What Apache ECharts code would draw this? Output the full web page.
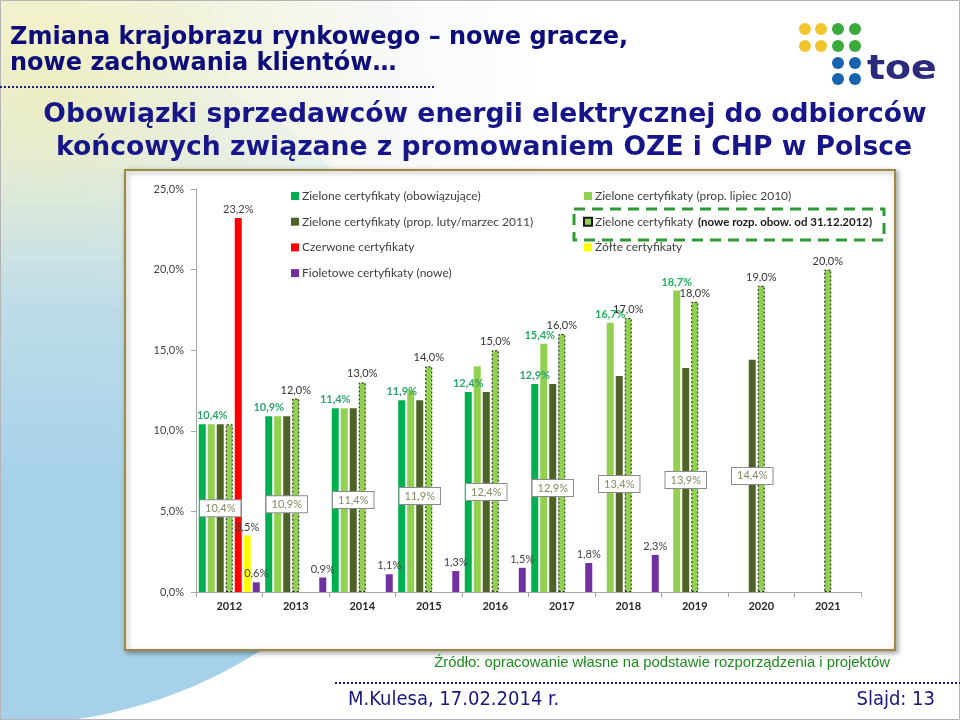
<!DOCTYPE html>
<html>
<head>
<meta charset="utf-8">
<script src="https://cdn.jsdelivr.net/npm/echarts@6/dist/echarts.min.js"></script>
<style>
html,body{margin:0;padding:0;background:#fff;}
#chart{width:960px;height:720px;}
</style>
</head>
<body>
<div id="chart"></div>
<script>
// ---- data ----
const years = ['2012','2013','2014','2015','2016','2017','2018','2019','2020','2021'];
const greenCurrent = [10.4, 10.9, 11.4, 11.9, 12.4, 12.9, null, null, null, null];
const greenJul2010 = [10.4, 10.9, 11.4, 12.5, 14.0, 15.4, 16.7, 18.7, null, null];
const greenFeb2011 = [10.4, 10.9, 11.4, 11.9, 12.4, 12.9, 13.4, 13.9, 14.4, null];
const greenNew     = [10.4, 12.0, 13.0, 14.0, 15.0, 16.0, 17.0, 18.0, 19.0, 20.0];
const redCert      = [23.2, null, null, null, null, null, null, null, null, null];
const yellowCert   = [3.5, null, null, null, null, null, null, null, null, null];
const violetCert   = [0.6, 0.9, 1.1, 1.3, 1.5, 1.8, 2.3, null, null, null];
const yTicks = [0, 5, 10, 15, 20, 25];

const names = {
  cur: 'Zielone certyfikaty (obowiązujące)',
  jul: 'Zielone certyfikaty (prop. lipiec 2010)',
  feb: 'Zielone certyfikaty (prop. luty/marzec 2011)',
  nw: 'Zielone certyfikaty',
  red: 'Czerwone certyfikaty',
  yel: 'Żółte certyfikaty',
  vio: 'Fioletowe certyfikaty (nowe)'
};

const pct = v => (typeof v === 'object' ? v.value : v).toFixed(1).replace('.', ',') + '%';
const FONT = 'Lato, "Open Sans", sans-serif';

function withLabels(arr, showIdx, extra) {
  return arr.map((v, i) => {
    if (v === null) return null;
    const item = { value: v };
    if (!showIdx(i)) item.label = { show: false };
    if (extra && extra[i]) item.label = Object.assign(item.label || {}, extra[i]);
    return item;
  });
}

const topLabel = (color, bold) => ({
  show: true, position: 'top', distance: 3, formatter: p => pct(p.value),
  color: color, fontSize: 11, fontFamily: FONT, fontWeight: bold ? 'bold' : 'normal'
});

const barBase = { type: 'bar', barWidth: 7, barGap: '28.6%', barCategoryGap: '6%' };

const chart = echarts.init(document.getElementById('chart'), null, { renderer: 'canvas' });

const legendText = { color: '#404040', fontSize: 12, fontFamily: FONT, lineHeight: 14, padding: [0, 0, 0, -2] };

const option = {
  animation: false,
  backgroundColor: 'transparent',
  grid: { left: 196, right: 99, top: 189, bottom: 128, containLabel: false },
  legend: [
    {
      left: 291, top: 189, orient: 'vertical', padding: 0, itemGap: 11.7,
      itemWidth: 8, itemHeight: 8, icon: 'rect', selectedMode: false,
      textStyle: legendText,
      data: [names.cur, names.feb, names.red, names.vio]
    },
    {
      left: 583, top: 189, orient: 'vertical', padding: 0, itemGap: 11.7,
      itemWidth: 8, itemHeight: 8, icon: 'rect', selectedMode: false,
      textStyle: legendText,
      data: [names.jul, names.nw, names.yel]
    }
  ],
  xAxis: {
    type: 'category', data: years,
    axisLine: { lineStyle: { color: '#a6a6a6', width: 1 } },
    axisTick: { show: true, length: 5, lineStyle: { color: '#a6a6a6' } },
    axisLabel: { color: '#262626', fontWeight: 'bold', fontSize: 11, fontFamily: FONT, margin: 9 }
  },
  yAxis: {
    type: 'value', min: yTicks[0], max: yTicks[yTicks.length - 1], interval: yTicks[1] - yTicks[0],
    axisLine: { show: true, lineStyle: { color: '#a6a6a6', width: 1 } },
    axisTick: { show: true, length: 5, lineStyle: { color: '#a6a6a6' } },
    splitLine: { show: false },
    axisLabel: { color: '#404040', fontSize: 11, fontFamily: FONT, margin: 12, formatter: v => pct(v) }
  },
  series: [
    Object.assign({}, barBase, {
      name: names.cur, itemStyle: { color: '#00b050' },
      label: topLabel('#2ea56c', true),
      data: withLabels(greenCurrent, i => true, { 0: { offset: [10, 0] } })
    }),
    Object.assign({}, barBase, {
      name: names.jul, itemStyle: { color: '#92d050' },
      label: topLabel('#22b05e', true),
      data: withLabels(greenJul2010, i => i >= 5, { 5: { offset: [-4, 0] } })
    }),
    Object.assign({}, barBase, {
      name: names.feb, itemStyle: { color: '#4f6228' },
      label: {
        show: true, position: 'inside', formatter: p => pct(p.value),
        color: '#7f8c64', fontSize: 11, fontFamily: FONT,
        backgroundColor: '#ffffff', borderColor: '#8c8c8c', borderWidth: 1, padding: [3, 5, 2, 5]
      },
      data: withLabels(greenFeb2011, i => true)
    }),
    Object.assign({}, barBase, {
      name: names.nw,
      itemStyle: { color: '#92d050', borderColor: '#1a1a1a', borderWidth: 1, borderType: [2, 2] },
      label: topLabel('#333333', false),
      data: withLabels(greenNew, i => i >= 1)
    }),
    Object.assign({}, barBase, {
      name: names.red, itemStyle: { color: '#ff0000' },
      label: topLabel('#404040', false),
      data: withLabels(redCert, i => true)
    }),
    Object.assign({}, barBase, {
      name: names.yel, itemStyle: { color: '#ffff00' },
      label: topLabel('#404040', false),
      data: withLabels(yellowCert, i => true)
    }),
    Object.assign({}, barBase, {
      name: names.vio, itemStyle: { color: '#7030a0' },
      label: topLabel('#404040', false),
      data: withLabels(violetCert, i => true)
    })
  ],
  graphic: [
    // slide background
    { type: 'rect', z: -20, silent: true, shape: { x: 0, y: 0, width: 960, height: 720 },
      style: { fill: { type: 'radial', x: 0.05, y: 0.12, r: 0.7, colorStops: [
        { offset: 0, color: '#f1efbe' }, { offset: 0.35, color: '#f2f3df' }, { offset: 0.75, color: '#f8fafb' }, { offset: 1, color: '#ffffff' } ] } } },
    { type: 'ellipse', z: -19, silent: true, shape: { cx: 0, cy: 380, rx: 420, ry: 345 },
      style: { fill: { type: 'linear', x: 0, y: 0, x2: 0, y2: 1, colorStops: [
        { offset: 0, color: 'rgba(166,209,232,0)' }, { offset: 0.18, color: 'rgba(166,209,232,0.15)' },
        { offset: 0.4, color: 'rgba(166,209,232,0.7)' }, { offset: 0.65, color: 'rgba(166,209,232,1)' }, { offset: 1, color: '#a6d1e8' } ] } } },
    { type: 'rect', z: -18, silent: true, shape: { x: 0.5, y: 0.5, width: 959, height: 719 },
      style: { fill: null, stroke: '#b4b4b4', lineWidth: 1 } },
    // chart frame
    { type: 'rect', z: -10, silent: true, shape: { x: 125, y: 170, width: 770, height: 480 },
      style: { fill: '#ffffff', stroke: '#9c8a45', lineWidth: 2, shadowBlur: 5, shadowOffsetX: 2, shadowOffsetY: 2, shadowColor: 'rgba(0,0,0,0.35)' } },
    // title
    { type: 'text', silent: true, x: 10, y: 38,
      style: { text: 'Zmiana krajobrazu rynkowego – nowe gracze,', font: 'bold 24px "DejaVu Sans", Verdana, sans-serif', fill: '#0c0c7a', textVerticalAlign: 'middle', verticalAlign: 'middle' } },
    { type: 'text', silent: true, x: 10, y: 64,
      style: { text: 'nowe zachowania klientów…', font: 'bold 24px "DejaVu Sans", Verdana, sans-serif', fill: '#0c0c7a', textVerticalAlign: 'middle', verticalAlign: 'middle' } },
    { type: 'line', silent: true, shape: { x1: 0, y1: 87, x2: 435, y2: 87 },
      style: { stroke: '#1a1a80', lineWidth: 2, lineDash: [2, 2] } },
    // logo
    ...[[805,29,'#f2c52e'],[821,29,'#f2c52e'],[805,46,'#f2c52e'],[821,46,'#f2c52e'],
        [838,29,'#3aaa3a'],[855,29,'#3aaa3a'],[838,46,'#3aaa3a'],[855,46,'#3aaa3a'],
        [838,63,'#1763b0'],[855,63,'#1763b0'],[838,79,'#1763b0'],[855,79,'#1763b0']].map(d => ({
      type: 'circle', silent: true, shape: { cx: d[0], cy: d[1], r: 6 }, style: { fill: d[2] } })),
    { type: 'text', silent: true, x: 867, y: 70, scaleX: 1.22, scaleY: 1.1,
      style: { text: 'toe', font: 'bold 31px "DejaVu Sans", sans-serif', fill: '#2b2a7c', textVerticalAlign: 'middle', verticalAlign: 'middle' } },
    // subtitle
    { type: 'text', silent: true, x: 485, y: 115,
      style: { text: 'Obowiązki sprzedawców energii elektrycznej do odbiorców', font: 'bold 26.6px "DejaVu Sans", Verdana, sans-serif', fill: '#16168a', textAlign: 'center', align: 'center', textVerticalAlign: 'middle', verticalAlign: 'middle' } },
    { type: 'text', silent: true, x: 484, y: 148,
      style: { text: 'końcowych związane z promowaniem OZE i CHP w Polsce', font: 'bold 26.6px "DejaVu Sans", Verdana, sans-serif', fill: '#16168a', textAlign: 'center', align: 'center', textVerticalAlign: 'middle', verticalAlign: 'middle' } },
    // legend extras
    { type: 'text', silent: true, x: 698, y: 222,
      style: { text: '(nowe rozp. obow. od 31.12.2012)', font: 'bold 11.5px ' + FONT, fill: '#1a1a1a', textVerticalAlign: 'middle', verticalAlign: 'middle' } },
    { type: 'rect', silent: true, shape: { x: 574, y: 209, width: 310, height: 31 },
      style: { fill: null, stroke: '#2f9a35', lineWidth: 3, lineDash: [11, 7] } },
    // footer
    { type: 'text', silent: true, x: 890, y: 663,
      style: { text: 'Źródło: opracowanie własne na podstawie rozporządzenia i projektów', font: '14.8px "Liberation Sans", Arial, sans-serif', fill: '#1e8a1e', textAlign: 'right', align: 'right', textVerticalAlign: 'middle', verticalAlign: 'middle' } },
    { type: 'line', silent: true, shape: { x1: 335, y1: 683, x2: 960, y2: 683 },
      style: { stroke: '#1a1a80', lineWidth: 2, lineDash: [2, 2] } },
    { type: 'text', silent: true, x: 348, y: 700,
      style: { text: 'M.Kulesa, 17.02.2014 r.', font: '20px "DejaVu Sans Condensed", "Liberation Sans Narrow", sans-serif', fill: '#17177e', textVerticalAlign: 'middle', verticalAlign: 'middle' } },
    { type: 'text', silent: true, x: 935, y: 700,
      style: { text: 'Slajd: 13', font: '20px "DejaVu Sans Condensed", "Liberation Sans Narrow", sans-serif', fill: '#17177e', textAlign: 'right', align: 'right', textVerticalAlign: 'middle', verticalAlign: 'middle' } }
  ]
};

chart.setOption(option);
</script>
</body>
</html>
